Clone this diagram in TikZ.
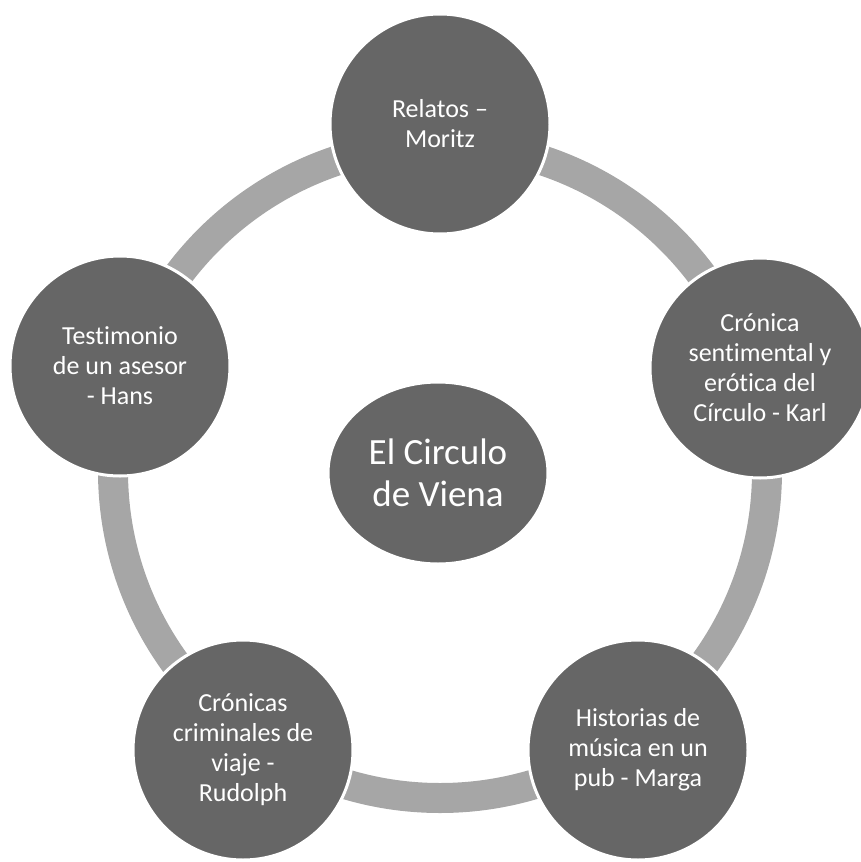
\documentclass[tikz,border=0pt]{standalone}
\usepackage{fontspec}
\setmainfont{Carlito}[Ligatures={NoCommon}]
\usetikzlibrary{shapes.geometric}
\definecolor{nodegray}{HTML}{666666}
\definecolor{ringgray}{HTML}{A6A6A6}
\tikzset{
  outer/.style={circle, fill=nodegray, draw=white, line width=3pt, minimum size=220pt,
    inner sep=0pt, text=white, align=center, font=\fontsize{26}{30}\selectfont},
  hub/.style={ellipse, fill=nodegray, draw=white, line width=3pt, minimum width=220pt,
    minimum height=182pt, inner sep=0pt, text=white, align=center, font=\fontsize{37}{42}\selectfont},
  ring/.style={draw=ringgray, line width=30pt}
}
\begin{document}
\begin{tikzpicture}[x=1pt,y=-1pt]
\useasboundingbox (0,0) rectangle (860,862);
\coordinate (o) at (440,471);
\draw[ring] (o) circle[radius=327pt];
\node[hub] (c) at (438,473) {El Circulo\\de Viena};
\node[outer] (n1) at (440,124) {Relatos –\\Moritz};
\node[outer] (n2) at (760,368) {Crónica\\sentimental y\\erótica del\\Círculo - Karl};
\node[outer] (n3) at (638,750) {Historias de\\música en un\\pub - Marga};
\node[outer] (n4) at (243,750) {Crónicas\\criminales de\\viaje -\\Rudolph};
\node[outer] (n5) at (120,366) {Testimonio\\de un asesor\\- Hans};
\end{tikzpicture}
\end{document}
